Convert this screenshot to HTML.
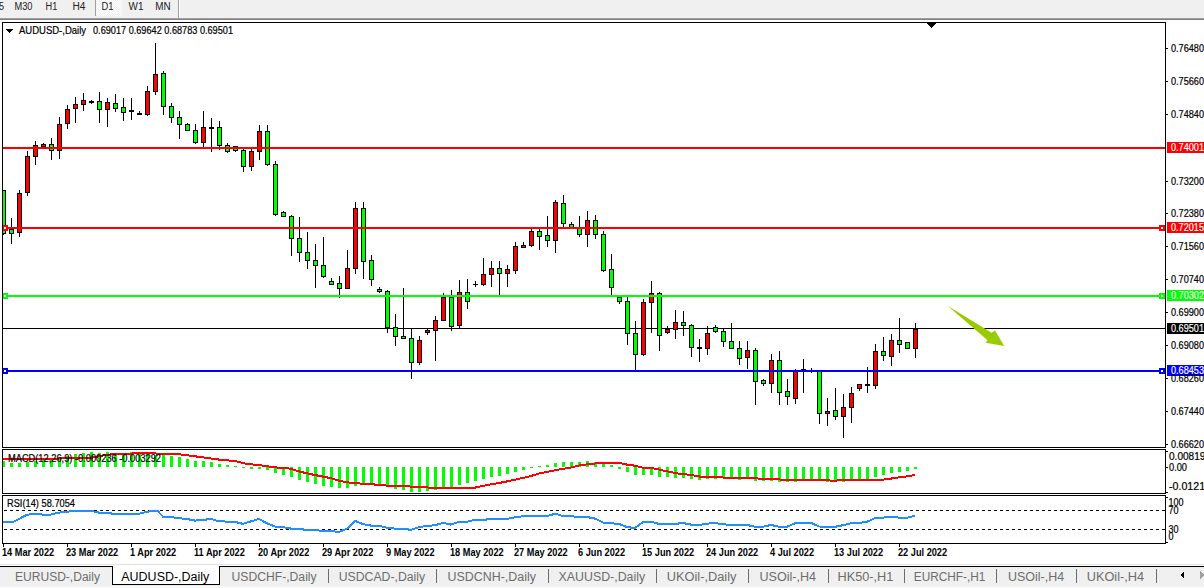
<!DOCTYPE html>
<html><head><meta charset="utf-8"><style>
html,body{margin:0;padding:0;background:#fff;}
body{width:1204px;height:588px;overflow:hidden;position:relative;}
svg{position:absolute;left:0;top:0;display:block;}
text{font-family:"Liberation Sans", sans-serif;}
</style></head><body>
<svg width="1204" height="588" viewBox="0 0 1204 588">
<g shape-rendering="crispEdges">
<rect x="0" y="0" width="1204" height="18" fill="#f0f0f0"/>
<rect x="0" y="18" width="1204" height="1" fill="#a0a0a0"/>
<rect x="0" y="19" width="1204" height="1" fill="#808080"/>
<rect x="0" y="20" width="1204" height="2" fill="#ffffff"/>
<defs><pattern id="chk" width="2" height="2" patternUnits="userSpaceOnUse"><rect width="2" height="2" fill="#f0f0f0"/><rect width="1" height="1" fill="#ffffff"/><rect x="1" y="1" width="1" height="1" fill="#ffffff"/></pattern></defs>
<rect x="96" y="0" width="26" height="16" fill="url(#chk)"/>
<rect x="95" y="0" width="1" height="16" fill="#a0a0a0"/>
<rect x="178" y="0" width="1" height="18" fill="#a0a0a0"/>
<rect x="179" y="0" width="1" height="18" fill="#ffffff"/>
<rect x="3" y="328" width="1162" height="1" fill="#000"/>
<rect x="3" y="190" width="1" height="45" fill="#000"/>
<rect x="3" y="190" width="3" height="44" fill="#000"/>
<rect x="3" y="191" width="2" height="42" fill="#00ff00"/>
<rect x="11" y="218" width="1" height="26" fill="#000"/>
<rect x="9" y="229" width="5" height="5" fill="#000"/>
<rect x="10" y="230" width="3" height="3" fill="#00ff00"/>
<rect x="19" y="190" width="1" height="47" fill="#000"/>
<rect x="17" y="193" width="5" height="40" fill="#000"/>
<rect x="18" y="194" width="3" height="38" fill="#ff0000"/>
<rect x="27" y="151" width="1" height="45" fill="#000"/>
<rect x="25" y="156" width="5" height="37" fill="#000"/>
<rect x="26" y="157" width="3" height="35" fill="#ff0000"/>
<rect x="35" y="141" width="1" height="24" fill="#000"/>
<rect x="33" y="145" width="5" height="12" fill="#000"/>
<rect x="34" y="146" width="3" height="10" fill="#ff0000"/>
<rect x="43" y="143" width="1" height="4" fill="#000"/>
<rect x="41" y="144" width="5" height="3" fill="#000"/>
<rect x="42" y="145" width="3" height="1" fill="#ff0000"/>
<rect x="51" y="138" width="1" height="22" fill="#000"/>
<rect x="49" y="144" width="5" height="7" fill="#000"/>
<rect x="50" y="145" width="3" height="5" fill="#00ff00"/>
<rect x="59" y="117" width="1" height="42" fill="#000"/>
<rect x="57" y="124" width="5" height="27" fill="#000"/>
<rect x="58" y="125" width="3" height="25" fill="#ff0000"/>
<rect x="67" y="105" width="1" height="24" fill="#000"/>
<rect x="65" y="109" width="5" height="15" fill="#000"/>
<rect x="66" y="110" width="3" height="13" fill="#ff0000"/>
<rect x="75" y="97" width="1" height="26" fill="#000"/>
<rect x="73" y="104" width="5" height="5" fill="#000"/>
<rect x="74" y="105" width="3" height="3" fill="#ff0000"/>
<rect x="83" y="93" width="1" height="18" fill="#000"/>
<rect x="81" y="100" width="5" height="5" fill="#000"/>
<rect x="82" y="101" width="3" height="3" fill="#ff0000"/>
<rect x="91" y="100" width="1" height="4" fill="#000"/>
<rect x="89" y="101" width="5" height="2" fill="#000"/>
<rect x="99" y="92" width="1" height="31" fill="#000"/>
<rect x="97" y="101" width="5" height="9" fill="#000"/>
<rect x="98" y="102" width="3" height="7" fill="#00ff00"/>
<rect x="107" y="98" width="1" height="29" fill="#000"/>
<rect x="105" y="102" width="5" height="8" fill="#000"/>
<rect x="106" y="103" width="3" height="6" fill="#ff0000"/>
<rect x="115" y="94" width="1" height="18" fill="#000"/>
<rect x="113" y="103" width="5" height="6" fill="#000"/>
<rect x="114" y="104" width="3" height="4" fill="#00ff00"/>
<rect x="123" y="98" width="1" height="23" fill="#000"/>
<rect x="121" y="107" width="5" height="6" fill="#000"/>
<rect x="122" y="108" width="3" height="4" fill="#00ff00"/>
<rect x="131" y="98" width="1" height="22" fill="#000"/>
<rect x="129" y="110" width="5" height="2" fill="#000"/>
<rect x="139" y="111" width="1" height="4" fill="#000"/>
<rect x="137" y="113" width="5" height="2" fill="#000"/>
<rect x="147" y="86" width="1" height="30" fill="#000"/>
<rect x="145" y="91" width="5" height="24" fill="#000"/>
<rect x="146" y="92" width="3" height="22" fill="#ff0000"/>
<rect x="155" y="43" width="1" height="52" fill="#000"/>
<rect x="153" y="74" width="5" height="18" fill="#000"/>
<rect x="154" y="75" width="3" height="16" fill="#ff0000"/>
<rect x="163" y="71" width="1" height="44" fill="#000"/>
<rect x="161" y="73" width="5" height="34" fill="#000"/>
<rect x="162" y="74" width="3" height="32" fill="#00ff00"/>
<rect x="171" y="103" width="1" height="20" fill="#000"/>
<rect x="169" y="106" width="5" height="12" fill="#000"/>
<rect x="170" y="107" width="3" height="10" fill="#00ff00"/>
<rect x="179" y="111" width="1" height="28" fill="#000"/>
<rect x="177" y="117" width="5" height="8" fill="#000"/>
<rect x="178" y="118" width="3" height="6" fill="#00ff00"/>
<rect x="187" y="123" width="1" height="8" fill="#000"/>
<rect x="185" y="124" width="5" height="7" fill="#000"/>
<rect x="186" y="125" width="3" height="5" fill="#00ff00"/>
<rect x="195" y="124" width="1" height="20" fill="#000"/>
<rect x="193" y="130" width="5" height="13" fill="#000"/>
<rect x="194" y="131" width="3" height="11" fill="#00ff00"/>
<rect x="203" y="111" width="1" height="36" fill="#000"/>
<rect x="201" y="127" width="5" height="16" fill="#000"/>
<rect x="202" y="128" width="3" height="14" fill="#ff0000"/>
<rect x="211" y="118" width="1" height="34" fill="#000"/>
<rect x="209" y="127" width="5" height="2" fill="#000"/>
<rect x="219" y="121" width="1" height="29" fill="#000"/>
<rect x="217" y="127" width="5" height="19" fill="#000"/>
<rect x="218" y="128" width="3" height="17" fill="#00ff00"/>
<rect x="227" y="143" width="1" height="10" fill="#000"/>
<rect x="225" y="145" width="5" height="7" fill="#000"/>
<rect x="226" y="146" width="3" height="5" fill="#00ff00"/>
<rect x="235" y="146" width="1" height="6" fill="#000"/>
<rect x="233" y="146" width="5" height="5" fill="#000"/>
<rect x="234" y="147" width="3" height="3" fill="#00ff00"/>
<rect x="243" y="149" width="1" height="23" fill="#000"/>
<rect x="241" y="150" width="5" height="17" fill="#000"/>
<rect x="242" y="151" width="3" height="15" fill="#00ff00"/>
<rect x="251" y="149" width="1" height="22" fill="#000"/>
<rect x="249" y="151" width="5" height="16" fill="#000"/>
<rect x="250" y="152" width="3" height="14" fill="#ff0000"/>
<rect x="259" y="125" width="1" height="35" fill="#000"/>
<rect x="257" y="131" width="5" height="21" fill="#000"/>
<rect x="258" y="132" width="3" height="19" fill="#ff0000"/>
<rect x="267" y="125" width="1" height="41" fill="#000"/>
<rect x="265" y="131" width="5" height="34" fill="#000"/>
<rect x="266" y="132" width="3" height="32" fill="#00ff00"/>
<rect x="275" y="161" width="1" height="55" fill="#000"/>
<rect x="273" y="164" width="5" height="51" fill="#000"/>
<rect x="274" y="165" width="3" height="49" fill="#00ff00"/>
<rect x="283" y="211" width="1" height="6" fill="#000"/>
<rect x="281" y="212" width="5" height="5" fill="#000"/>
<rect x="282" y="213" width="3" height="3" fill="#00ff00"/>
<rect x="291" y="215" width="1" height="41" fill="#000"/>
<rect x="289" y="216" width="5" height="23" fill="#000"/>
<rect x="290" y="217" width="3" height="21" fill="#00ff00"/>
<rect x="299" y="217" width="1" height="45" fill="#000"/>
<rect x="297" y="238" width="5" height="15" fill="#000"/>
<rect x="298" y="239" width="3" height="13" fill="#00ff00"/>
<rect x="307" y="232" width="1" height="37" fill="#000"/>
<rect x="305" y="252" width="5" height="9" fill="#000"/>
<rect x="306" y="253" width="3" height="7" fill="#00ff00"/>
<rect x="315" y="244" width="1" height="44" fill="#000"/>
<rect x="313" y="260" width="5" height="6" fill="#000"/>
<rect x="314" y="261" width="3" height="4" fill="#00ff00"/>
<rect x="323" y="237" width="1" height="41" fill="#000"/>
<rect x="321" y="265" width="5" height="12" fill="#000"/>
<rect x="322" y="266" width="3" height="10" fill="#00ff00"/>
<rect x="331" y="278" width="1" height="7" fill="#000"/>
<rect x="329" y="281" width="5" height="4" fill="#000"/>
<rect x="330" y="282" width="3" height="2" fill="#00ff00"/>
<rect x="339" y="276" width="1" height="22" fill="#000"/>
<rect x="337" y="283" width="5" height="6" fill="#000"/>
<rect x="338" y="284" width="3" height="4" fill="#00ff00"/>
<rect x="347" y="250" width="1" height="39" fill="#000"/>
<rect x="345" y="268" width="5" height="21" fill="#000"/>
<rect x="346" y="269" width="3" height="19" fill="#ff0000"/>
<rect x="355" y="202" width="1" height="72" fill="#000"/>
<rect x="353" y="208" width="5" height="61" fill="#000"/>
<rect x="354" y="209" width="3" height="59" fill="#ff0000"/>
<rect x="363" y="202" width="1" height="77" fill="#000"/>
<rect x="361" y="208" width="5" height="54" fill="#000"/>
<rect x="362" y="209" width="3" height="52" fill="#00ff00"/>
<rect x="371" y="255" width="1" height="31" fill="#000"/>
<rect x="369" y="260" width="5" height="20" fill="#000"/>
<rect x="370" y="261" width="3" height="18" fill="#00ff00"/>
<rect x="379" y="287" width="1" height="6" fill="#000"/>
<rect x="377" y="289" width="5" height="3" fill="#000"/>
<rect x="378" y="290" width="3" height="1" fill="#00ff00"/>
<rect x="387" y="290" width="1" height="43" fill="#000"/>
<rect x="385" y="291" width="5" height="37" fill="#000"/>
<rect x="386" y="292" width="3" height="35" fill="#00ff00"/>
<rect x="395" y="314" width="1" height="32" fill="#000"/>
<rect x="393" y="327" width="5" height="10" fill="#000"/>
<rect x="394" y="328" width="3" height="8" fill="#00ff00"/>
<rect x="403" y="288" width="1" height="51" fill="#000"/>
<rect x="401" y="336" width="5" height="3" fill="#000"/>
<rect x="402" y="337" width="3" height="1" fill="#00ff00"/>
<rect x="411" y="328" width="1" height="51" fill="#000"/>
<rect x="409" y="338" width="5" height="25" fill="#000"/>
<rect x="410" y="339" width="3" height="23" fill="#00ff00"/>
<rect x="419" y="336" width="1" height="29" fill="#000"/>
<rect x="417" y="340" width="5" height="23" fill="#000"/>
<rect x="418" y="341" width="3" height="21" fill="#ff0000"/>
<rect x="427" y="329" width="1" height="6" fill="#000"/>
<rect x="425" y="330" width="5" height="3" fill="#000"/>
<rect x="426" y="331" width="3" height="1" fill="#ff0000"/>
<rect x="435" y="316" width="1" height="45" fill="#000"/>
<rect x="433" y="320" width="5" height="11" fill="#000"/>
<rect x="434" y="321" width="3" height="9" fill="#ff0000"/>
<rect x="443" y="293" width="1" height="28" fill="#000"/>
<rect x="441" y="297" width="5" height="24" fill="#000"/>
<rect x="442" y="298" width="3" height="22" fill="#ff0000"/>
<rect x="451" y="290" width="1" height="41" fill="#000"/>
<rect x="449" y="297" width="5" height="30" fill="#000"/>
<rect x="450" y="298" width="3" height="28" fill="#00ff00"/>
<rect x="459" y="280" width="1" height="49" fill="#000"/>
<rect x="457" y="292" width="5" height="34" fill="#000"/>
<rect x="458" y="293" width="3" height="32" fill="#ff0000"/>
<rect x="467" y="279" width="1" height="30" fill="#000"/>
<rect x="465" y="292" width="5" height="10" fill="#000"/>
<rect x="466" y="293" width="3" height="8" fill="#00ff00"/>
<rect x="475" y="281" width="1" height="6" fill="#000"/>
<rect x="473" y="284" width="5" height="1" fill="#000"/>
<rect x="483" y="258" width="1" height="28" fill="#000"/>
<rect x="481" y="274" width="5" height="11" fill="#000"/>
<rect x="482" y="275" width="3" height="9" fill="#ff0000"/>
<rect x="491" y="261" width="1" height="26" fill="#000"/>
<rect x="489" y="268" width="5" height="7" fill="#000"/>
<rect x="490" y="269" width="3" height="5" fill="#ff0000"/>
<rect x="499" y="261" width="1" height="34" fill="#000"/>
<rect x="497" y="268" width="5" height="6" fill="#000"/>
<rect x="498" y="269" width="3" height="4" fill="#00ff00"/>
<rect x="507" y="265" width="1" height="22" fill="#000"/>
<rect x="505" y="269" width="5" height="5" fill="#000"/>
<rect x="506" y="270" width="3" height="3" fill="#ff0000"/>
<rect x="515" y="242" width="1" height="32" fill="#000"/>
<rect x="513" y="246" width="5" height="25" fill="#000"/>
<rect x="514" y="247" width="3" height="23" fill="#ff0000"/>
<rect x="523" y="242" width="1" height="6" fill="#000"/>
<rect x="521" y="245" width="5" height="3" fill="#000"/>
<rect x="522" y="246" width="3" height="1" fill="#ff0000"/>
<rect x="531" y="229" width="1" height="18" fill="#000"/>
<rect x="529" y="231" width="5" height="15" fill="#000"/>
<rect x="530" y="232" width="3" height="13" fill="#ff0000"/>
<rect x="539" y="229" width="1" height="21" fill="#000"/>
<rect x="537" y="231" width="5" height="6" fill="#000"/>
<rect x="538" y="232" width="3" height="4" fill="#00ff00"/>
<rect x="547" y="216" width="1" height="31" fill="#000"/>
<rect x="545" y="235" width="5" height="6" fill="#000"/>
<rect x="546" y="236" width="3" height="4" fill="#00ff00"/>
<rect x="555" y="200" width="1" height="53" fill="#000"/>
<rect x="553" y="202" width="5" height="39" fill="#000"/>
<rect x="554" y="203" width="3" height="37" fill="#ff0000"/>
<rect x="563" y="195" width="1" height="32" fill="#000"/>
<rect x="561" y="203" width="5" height="21" fill="#000"/>
<rect x="562" y="204" width="3" height="19" fill="#00ff00"/>
<rect x="571" y="222" width="1" height="6" fill="#000"/>
<rect x="569" y="224" width="5" height="4" fill="#000"/>
<rect x="570" y="225" width="3" height="2" fill="#00ff00"/>
<rect x="579" y="216" width="1" height="21" fill="#000"/>
<rect x="577" y="228" width="5" height="7" fill="#000"/>
<rect x="578" y="229" width="3" height="5" fill="#00ff00"/>
<rect x="587" y="211" width="1" height="36" fill="#000"/>
<rect x="585" y="220" width="5" height="15" fill="#000"/>
<rect x="586" y="221" width="3" height="13" fill="#ff0000"/>
<rect x="595" y="215" width="1" height="24" fill="#000"/>
<rect x="593" y="220" width="5" height="15" fill="#000"/>
<rect x="594" y="221" width="3" height="13" fill="#00ff00"/>
<rect x="603" y="231" width="1" height="41" fill="#000"/>
<rect x="601" y="234" width="5" height="37" fill="#000"/>
<rect x="602" y="235" width="3" height="35" fill="#00ff00"/>
<rect x="611" y="254" width="1" height="41" fill="#000"/>
<rect x="609" y="269" width="5" height="19" fill="#000"/>
<rect x="610" y="270" width="3" height="17" fill="#00ff00"/>
<rect x="619" y="297" width="1" height="7" fill="#000"/>
<rect x="617" y="297" width="5" height="5" fill="#000"/>
<rect x="618" y="298" width="3" height="3" fill="#00ff00"/>
<rect x="627" y="297" width="1" height="48" fill="#000"/>
<rect x="625" y="301" width="5" height="33" fill="#000"/>
<rect x="626" y="302" width="3" height="31" fill="#00ff00"/>
<rect x="635" y="321" width="1" height="50" fill="#000"/>
<rect x="633" y="333" width="5" height="22" fill="#000"/>
<rect x="634" y="334" width="3" height="20" fill="#00ff00"/>
<rect x="643" y="299" width="1" height="57" fill="#000"/>
<rect x="641" y="302" width="5" height="53" fill="#000"/>
<rect x="642" y="303" width="3" height="51" fill="#ff0000"/>
<rect x="651" y="281" width="1" height="52" fill="#000"/>
<rect x="649" y="293" width="5" height="10" fill="#000"/>
<rect x="650" y="294" width="3" height="8" fill="#ff0000"/>
<rect x="659" y="292" width="1" height="59" fill="#000"/>
<rect x="657" y="293" width="5" height="43" fill="#000"/>
<rect x="658" y="294" width="3" height="41" fill="#00ff00"/>
<rect x="667" y="326" width="1" height="8" fill="#000"/>
<rect x="665" y="329" width="5" height="4" fill="#000"/>
<rect x="666" y="330" width="3" height="2" fill="#ff0000"/>
<rect x="675" y="310" width="1" height="29" fill="#000"/>
<rect x="673" y="322" width="5" height="8" fill="#000"/>
<rect x="674" y="323" width="3" height="6" fill="#ff0000"/>
<rect x="683" y="311" width="1" height="25" fill="#000"/>
<rect x="681" y="322" width="5" height="4" fill="#000"/>
<rect x="682" y="323" width="3" height="2" fill="#00ff00"/>
<rect x="691" y="324" width="1" height="33" fill="#000"/>
<rect x="689" y="325" width="5" height="23" fill="#000"/>
<rect x="690" y="326" width="3" height="21" fill="#00ff00"/>
<rect x="699" y="339" width="1" height="23" fill="#000"/>
<rect x="697" y="347" width="5" height="2" fill="#000"/>
<rect x="707" y="326" width="1" height="29" fill="#000"/>
<rect x="705" y="333" width="5" height="16" fill="#000"/>
<rect x="706" y="334" width="3" height="14" fill="#ff0000"/>
<rect x="715" y="325" width="1" height="8" fill="#000"/>
<rect x="713" y="327" width="5" height="5" fill="#000"/>
<rect x="714" y="328" width="3" height="3" fill="#00ff00"/>
<rect x="723" y="329" width="1" height="18" fill="#000"/>
<rect x="721" y="331" width="5" height="11" fill="#000"/>
<rect x="722" y="332" width="3" height="9" fill="#00ff00"/>
<rect x="731" y="323" width="1" height="26" fill="#000"/>
<rect x="729" y="341" width="5" height="8" fill="#000"/>
<rect x="730" y="342" width="3" height="6" fill="#00ff00"/>
<rect x="739" y="341" width="1" height="24" fill="#000"/>
<rect x="737" y="348" width="5" height="11" fill="#000"/>
<rect x="738" y="349" width="3" height="9" fill="#00ff00"/>
<rect x="747" y="341" width="1" height="28" fill="#000"/>
<rect x="745" y="350" width="5" height="8" fill="#000"/>
<rect x="746" y="351" width="3" height="6" fill="#ff0000"/>
<rect x="755" y="348" width="1" height="57" fill="#000"/>
<rect x="753" y="350" width="5" height="32" fill="#000"/>
<rect x="754" y="351" width="3" height="30" fill="#00ff00"/>
<rect x="763" y="379" width="1" height="7" fill="#000"/>
<rect x="761" y="380" width="5" height="4" fill="#000"/>
<rect x="762" y="381" width="3" height="2" fill="#00ff00"/>
<rect x="771" y="354" width="1" height="39" fill="#000"/>
<rect x="769" y="360" width="5" height="24" fill="#000"/>
<rect x="770" y="361" width="3" height="22" fill="#ff0000"/>
<rect x="779" y="351" width="1" height="54" fill="#000"/>
<rect x="777" y="360" width="5" height="33" fill="#000"/>
<rect x="778" y="361" width="3" height="31" fill="#00ff00"/>
<rect x="787" y="379" width="1" height="26" fill="#000"/>
<rect x="785" y="391" width="5" height="6" fill="#000"/>
<rect x="786" y="392" width="3" height="4" fill="#00ff00"/>
<rect x="795" y="369" width="1" height="35" fill="#000"/>
<rect x="793" y="371" width="5" height="28" fill="#000"/>
<rect x="794" y="372" width="3" height="26" fill="#ff0000"/>
<rect x="803" y="359" width="1" height="34" fill="#000"/>
<rect x="801" y="369" width="5" height="2" fill="#000"/>
<rect x="811" y="368" width="1" height="5" fill="#000"/>
<rect x="809" y="370" width="5" height="2" fill="#000"/>
<rect x="819" y="371" width="1" height="53" fill="#000"/>
<rect x="817" y="371" width="5" height="43" fill="#000"/>
<rect x="818" y="372" width="3" height="41" fill="#00ff00"/>
<rect x="827" y="398" width="1" height="28" fill="#000"/>
<rect x="825" y="411" width="5" height="3" fill="#000"/>
<rect x="826" y="412" width="3" height="1" fill="#ff0000"/>
<rect x="835" y="388" width="1" height="32" fill="#000"/>
<rect x="833" y="410" width="5" height="7" fill="#000"/>
<rect x="834" y="411" width="3" height="5" fill="#00ff00"/>
<rect x="843" y="394" width="1" height="44" fill="#000"/>
<rect x="841" y="407" width="5" height="10" fill="#000"/>
<rect x="842" y="408" width="3" height="8" fill="#ff0000"/>
<rect x="851" y="387" width="1" height="36" fill="#000"/>
<rect x="849" y="393" width="5" height="15" fill="#000"/>
<rect x="850" y="394" width="3" height="13" fill="#ff0000"/>
<rect x="859" y="384" width="1" height="7" fill="#000"/>
<rect x="857" y="384" width="5" height="5" fill="#000"/>
<rect x="858" y="385" width="3" height="3" fill="#ff0000"/>
<rect x="867" y="367" width="1" height="26" fill="#000"/>
<rect x="865" y="384" width="5" height="2" fill="#000"/>
<rect x="875" y="344" width="1" height="45" fill="#000"/>
<rect x="873" y="351" width="5" height="35" fill="#000"/>
<rect x="874" y="352" width="3" height="33" fill="#ff0000"/>
<rect x="883" y="337" width="1" height="24" fill="#000"/>
<rect x="881" y="351" width="5" height="5" fill="#000"/>
<rect x="882" y="352" width="3" height="3" fill="#00ff00"/>
<rect x="891" y="334" width="1" height="32" fill="#000"/>
<rect x="889" y="340" width="5" height="17" fill="#000"/>
<rect x="890" y="341" width="3" height="15" fill="#ff0000"/>
<rect x="899" y="318" width="1" height="35" fill="#000"/>
<rect x="897" y="340" width="5" height="5" fill="#000"/>
<rect x="898" y="341" width="3" height="3" fill="#00ff00"/>
<rect x="907" y="342" width="1" height="7" fill="#000"/>
<rect x="905" y="342" width="5" height="7" fill="#000"/>
<rect x="906" y="343" width="3" height="5" fill="#00ff00"/>
<rect x="915" y="323" width="1" height="35" fill="#000"/>
<rect x="913" y="329" width="5" height="20" fill="#000"/>
<rect x="914" y="330" width="3" height="18" fill="#ff0000"/>
<rect x="3" y="147" width="1162" height="2" fill="#ff0000"/>
<rect x="3" y="227" width="1162" height="2" fill="#ff0000"/>
<rect x="2" y="225" width="6" height="6" fill="#ff0000"/>
<rect x="4" y="227" width="2" height="2" fill="#fff"/>
<rect x="1159" y="225" width="6" height="6" fill="#ff0000"/>
<rect x="1161" y="227" width="2" height="2" fill="#fff"/>
<rect x="3" y="295" width="1162" height="2" fill="#00ff00"/>
<rect x="2" y="293" width="6" height="6" fill="#00ff00"/>
<rect x="4" y="295" width="2" height="2" fill="#fff"/>
<rect x="1159" y="293" width="6" height="6" fill="#00ff00"/>
<rect x="1161" y="295" width="2" height="2" fill="#fff"/>
<rect x="3" y="370" width="1162" height="2" fill="#0000ff"/>
<rect x="2" y="368" width="6" height="6" fill="#0000ff"/>
<rect x="4" y="370" width="2" height="2" fill="#fff"/>
<rect x="1159" y="368" width="6" height="6" fill="#0000ff"/>
<rect x="1161" y="370" width="2" height="2" fill="#fff"/>
<polygon shape-rendering="geometricPrecision" points="947.5,305.8 991.6,332.8 995,330.4 1004.2,346 985.5,342.7 987.6,340.3" fill="#99cc00"/>
<polygon points="926.5,23 936.5,23 931.5,28" fill="#000"/>
<rect x="3" y="461" width="2" height="6" fill="#00ff00"/>
<rect x="10" y="463" width="3" height="4" fill="#00ff00"/>
<rect x="18" y="463" width="3" height="4" fill="#00ff00"/>
<rect x="26" y="462" width="3" height="5" fill="#00ff00"/>
<rect x="34" y="461" width="3" height="6" fill="#00ff00"/>
<rect x="42" y="460" width="3" height="7" fill="#00ff00"/>
<rect x="50" y="459" width="3" height="8" fill="#00ff00"/>
<rect x="58" y="458" width="3" height="9" fill="#00ff00"/>
<rect x="66" y="456" width="3" height="11" fill="#00ff00"/>
<rect x="74" y="454" width="3" height="13" fill="#00ff00"/>
<rect x="82" y="453" width="3" height="14" fill="#00ff00"/>
<rect x="90" y="452" width="3" height="15" fill="#00ff00"/>
<rect x="98" y="453" width="3" height="14" fill="#00ff00"/>
<rect x="106" y="452" width="3" height="15" fill="#00ff00"/>
<rect x="114" y="453" width="3" height="14" fill="#00ff00"/>
<rect x="122" y="454" width="3" height="13" fill="#00ff00"/>
<rect x="130" y="452" width="3" height="15" fill="#00ff00"/>
<rect x="138" y="452" width="3" height="15" fill="#00ff00"/>
<rect x="146" y="453" width="3" height="14" fill="#00ff00"/>
<rect x="154" y="455" width="3" height="12" fill="#00ff00"/>
<rect x="162" y="455" width="3" height="12" fill="#00ff00"/>
<rect x="170" y="456" width="3" height="11" fill="#00ff00"/>
<rect x="178" y="457" width="3" height="10" fill="#00ff00"/>
<rect x="186" y="459" width="3" height="8" fill="#00ff00"/>
<rect x="194" y="461" width="3" height="6" fill="#00ff00"/>
<rect x="202" y="461" width="3" height="6" fill="#00ff00"/>
<rect x="210" y="462" width="3" height="5" fill="#00ff00"/>
<rect x="218" y="464" width="3" height="3" fill="#00ff00"/>
<rect x="226" y="465" width="3" height="2" fill="#00ff00"/>
<rect x="234" y="466" width="3" height="1" fill="#00ff00"/>
<rect x="242" y="467" width="3" height="1" fill="#00ff00"/>
<rect x="250" y="467" width="3" height="2" fill="#00ff00"/>
<rect x="258" y="467" width="3" height="2" fill="#00ff00"/>
<rect x="266" y="467" width="3" height="3" fill="#00ff00"/>
<rect x="274" y="467" width="3" height="6" fill="#00ff00"/>
<rect x="282" y="467" width="3" height="8" fill="#00ff00"/>
<rect x="290" y="467" width="3" height="10" fill="#00ff00"/>
<rect x="298" y="467" width="3" height="13" fill="#00ff00"/>
<rect x="306" y="467" width="3" height="15" fill="#00ff00"/>
<rect x="314" y="467" width="3" height="17" fill="#00ff00"/>
<rect x="322" y="467" width="3" height="19" fill="#00ff00"/>
<rect x="330" y="467" width="3" height="20" fill="#00ff00"/>
<rect x="338" y="467" width="3" height="21" fill="#00ff00"/>
<rect x="346" y="467" width="3" height="21" fill="#00ff00"/>
<rect x="354" y="467" width="3" height="19" fill="#00ff00"/>
<rect x="362" y="467" width="3" height="18" fill="#00ff00"/>
<rect x="370" y="467" width="3" height="17" fill="#00ff00"/>
<rect x="378" y="467" width="3" height="17" fill="#00ff00"/>
<rect x="386" y="467" width="3" height="19" fill="#00ff00"/>
<rect x="394" y="467" width="3" height="22" fill="#00ff00"/>
<rect x="402" y="467" width="3" height="23" fill="#00ff00"/>
<rect x="410" y="467" width="3" height="25" fill="#00ff00"/>
<rect x="418" y="467" width="3" height="25" fill="#00ff00"/>
<rect x="426" y="467" width="3" height="24" fill="#00ff00"/>
<rect x="434" y="467" width="3" height="23" fill="#00ff00"/>
<rect x="442" y="467" width="3" height="21" fill="#00ff00"/>
<rect x="450" y="467" width="3" height="21" fill="#00ff00"/>
<rect x="458" y="467" width="3" height="18" fill="#00ff00"/>
<rect x="466" y="467" width="3" height="16" fill="#00ff00"/>
<rect x="474" y="467" width="3" height="14" fill="#00ff00"/>
<rect x="482" y="467" width="3" height="12" fill="#00ff00"/>
<rect x="490" y="467" width="3" height="10" fill="#00ff00"/>
<rect x="498" y="467" width="3" height="9" fill="#00ff00"/>
<rect x="506" y="467" width="3" height="7" fill="#00ff00"/>
<rect x="514" y="467" width="3" height="5" fill="#00ff00"/>
<rect x="522" y="467" width="3" height="3" fill="#00ff00"/>
<rect x="530" y="467" width="3" height="1" fill="#00ff00"/>
<rect x="538" y="466" width="3" height="1" fill="#00ff00"/>
<rect x="546" y="465" width="3" height="2" fill="#00ff00"/>
<rect x="554" y="463" width="3" height="4" fill="#00ff00"/>
<rect x="562" y="462" width="3" height="5" fill="#00ff00"/>
<rect x="570" y="462" width="3" height="5" fill="#00ff00"/>
<rect x="578" y="462" width="3" height="5" fill="#00ff00"/>
<rect x="586" y="461" width="3" height="6" fill="#00ff00"/>
<rect x="594" y="462" width="3" height="5" fill="#00ff00"/>
<rect x="602" y="464" width="3" height="3" fill="#00ff00"/>
<rect x="610" y="465" width="3" height="2" fill="#00ff00"/>
<rect x="618" y="467" width="3" height="2" fill="#00ff00"/>
<rect x="626" y="467" width="3" height="5" fill="#00ff00"/>
<rect x="634" y="467" width="3" height="8" fill="#00ff00"/>
<rect x="642" y="467" width="3" height="8" fill="#00ff00"/>
<rect x="650" y="467" width="3" height="8" fill="#00ff00"/>
<rect x="658" y="467" width="3" height="10" fill="#00ff00"/>
<rect x="666" y="467" width="3" height="10" fill="#00ff00"/>
<rect x="674" y="467" width="3" height="11" fill="#00ff00"/>
<rect x="682" y="467" width="3" height="11" fill="#00ff00"/>
<rect x="690" y="467" width="3" height="12" fill="#00ff00"/>
<rect x="698" y="467" width="3" height="13" fill="#00ff00"/>
<rect x="706" y="467" width="3" height="12" fill="#00ff00"/>
<rect x="714" y="467" width="3" height="12" fill="#00ff00"/>
<rect x="722" y="467" width="3" height="11" fill="#00ff00"/>
<rect x="730" y="467" width="3" height="11" fill="#00ff00"/>
<rect x="738" y="467" width="3" height="13" fill="#00ff00"/>
<rect x="746" y="467" width="3" height="11" fill="#00ff00"/>
<rect x="754" y="467" width="3" height="14" fill="#00ff00"/>
<rect x="762" y="467" width="3" height="14" fill="#00ff00"/>
<rect x="770" y="467" width="3" height="14" fill="#00ff00"/>
<rect x="778" y="467" width="3" height="15" fill="#00ff00"/>
<rect x="786" y="467" width="3" height="15" fill="#00ff00"/>
<rect x="794" y="467" width="3" height="15" fill="#00ff00"/>
<rect x="802" y="467" width="3" height="13" fill="#00ff00"/>
<rect x="810" y="467" width="3" height="13" fill="#00ff00"/>
<rect x="818" y="467" width="3" height="13" fill="#00ff00"/>
<rect x="826" y="467" width="3" height="15" fill="#00ff00"/>
<rect x="834" y="467" width="3" height="15" fill="#00ff00"/>
<rect x="842" y="467" width="3" height="15" fill="#00ff00"/>
<rect x="850" y="467" width="3" height="14" fill="#00ff00"/>
<rect x="858" y="467" width="3" height="12" fill="#00ff00"/>
<rect x="866" y="467" width="3" height="12" fill="#00ff00"/>
<rect x="874" y="467" width="3" height="10" fill="#00ff00"/>
<rect x="882" y="467" width="3" height="8" fill="#00ff00"/>
<rect x="890" y="467" width="3" height="6" fill="#00ff00"/>
<rect x="898" y="467" width="3" height="5" fill="#00ff00"/>
<rect x="906" y="467" width="3" height="4" fill="#00ff00"/>
<rect x="914" y="467" width="3" height="2" fill="#00ff00"/>
<polyline points="2,459 40,459 60,458.5 90,458 100,456 110,454.5 125,454 140,453 150,453 156,453.5 180,454.4 190,455.6 200,457 210,458.4 220,459.7 235,461 245,463.5 260,465.3 275,467.3 290,468.6 300,471.7 310,474 320,476 330,478 340,481 350,482.6 360,483.5 370,484.1 380,485 390,485.9 410,486.5 420,487 430,487.6 460,487.6 475,487.6 480,486.5 490,484.5 500,482.8 510,480.8 520,478.6 530,476.3 540,473.2 550,471.3 560,469.3 570,467.7 580,465.3 590,464 600,463 610,463 620,463 627,464.6 635,465.7 643,467.7 655,468.6 665,470.9 680,473.9 690,474.8 700,476.6 720,477 725,477.9 755,477.9 760,479 787,479.7 835,480.6 852,479.7 883,479.7 891,478.6 899,477.4 907,476.4 915,474.9" fill="none" stroke="#ff0000" stroke-width="2" shape-rendering="crispEdges"/>
<rect x="4" y="510" width="3" height="1" fill="#000"/>
<rect x="10" y="510" width="3" height="1" fill="#000"/>
<rect x="16" y="510" width="3" height="1" fill="#000"/>
<rect x="22" y="510" width="3" height="1" fill="#000"/>
<rect x="28" y="510" width="3" height="1" fill="#000"/>
<rect x="34" y="510" width="3" height="1" fill="#000"/>
<rect x="40" y="510" width="3" height="1" fill="#000"/>
<rect x="46" y="510" width="3" height="1" fill="#000"/>
<rect x="52" y="510" width="3" height="1" fill="#000"/>
<rect x="58" y="510" width="3" height="1" fill="#000"/>
<rect x="64" y="510" width="3" height="1" fill="#000"/>
<rect x="70" y="510" width="3" height="1" fill="#000"/>
<rect x="76" y="510" width="3" height="1" fill="#000"/>
<rect x="82" y="510" width="3" height="1" fill="#000"/>
<rect x="88" y="510" width="3" height="1" fill="#000"/>
<rect x="94" y="510" width="3" height="1" fill="#000"/>
<rect x="100" y="510" width="3" height="1" fill="#000"/>
<rect x="106" y="510" width="3" height="1" fill="#000"/>
<rect x="112" y="510" width="3" height="1" fill="#000"/>
<rect x="118" y="510" width="3" height="1" fill="#000"/>
<rect x="124" y="510" width="3" height="1" fill="#000"/>
<rect x="130" y="510" width="3" height="1" fill="#000"/>
<rect x="136" y="510" width="3" height="1" fill="#000"/>
<rect x="142" y="510" width="3" height="1" fill="#000"/>
<rect x="148" y="510" width="3" height="1" fill="#000"/>
<rect x="154" y="510" width="3" height="1" fill="#000"/>
<rect x="160" y="510" width="3" height="1" fill="#000"/>
<rect x="166" y="510" width="3" height="1" fill="#000"/>
<rect x="172" y="510" width="3" height="1" fill="#000"/>
<rect x="178" y="510" width="3" height="1" fill="#000"/>
<rect x="184" y="510" width="3" height="1" fill="#000"/>
<rect x="190" y="510" width="3" height="1" fill="#000"/>
<rect x="196" y="510" width="3" height="1" fill="#000"/>
<rect x="202" y="510" width="3" height="1" fill="#000"/>
<rect x="208" y="510" width="3" height="1" fill="#000"/>
<rect x="214" y="510" width="3" height="1" fill="#000"/>
<rect x="220" y="510" width="3" height="1" fill="#000"/>
<rect x="226" y="510" width="3" height="1" fill="#000"/>
<rect x="232" y="510" width="3" height="1" fill="#000"/>
<rect x="238" y="510" width="3" height="1" fill="#000"/>
<rect x="244" y="510" width="3" height="1" fill="#000"/>
<rect x="250" y="510" width="3" height="1" fill="#000"/>
<rect x="256" y="510" width="3" height="1" fill="#000"/>
<rect x="262" y="510" width="3" height="1" fill="#000"/>
<rect x="268" y="510" width="3" height="1" fill="#000"/>
<rect x="274" y="510" width="3" height="1" fill="#000"/>
<rect x="280" y="510" width="3" height="1" fill="#000"/>
<rect x="286" y="510" width="3" height="1" fill="#000"/>
<rect x="292" y="510" width="3" height="1" fill="#000"/>
<rect x="298" y="510" width="3" height="1" fill="#000"/>
<rect x="304" y="510" width="3" height="1" fill="#000"/>
<rect x="310" y="510" width="3" height="1" fill="#000"/>
<rect x="316" y="510" width="3" height="1" fill="#000"/>
<rect x="322" y="510" width="3" height="1" fill="#000"/>
<rect x="328" y="510" width="3" height="1" fill="#000"/>
<rect x="334" y="510" width="3" height="1" fill="#000"/>
<rect x="340" y="510" width="3" height="1" fill="#000"/>
<rect x="346" y="510" width="3" height="1" fill="#000"/>
<rect x="352" y="510" width="3" height="1" fill="#000"/>
<rect x="358" y="510" width="3" height="1" fill="#000"/>
<rect x="364" y="510" width="3" height="1" fill="#000"/>
<rect x="370" y="510" width="3" height="1" fill="#000"/>
<rect x="376" y="510" width="3" height="1" fill="#000"/>
<rect x="382" y="510" width="3" height="1" fill="#000"/>
<rect x="388" y="510" width="3" height="1" fill="#000"/>
<rect x="394" y="510" width="3" height="1" fill="#000"/>
<rect x="400" y="510" width="3" height="1" fill="#000"/>
<rect x="406" y="510" width="3" height="1" fill="#000"/>
<rect x="412" y="510" width="3" height="1" fill="#000"/>
<rect x="418" y="510" width="3" height="1" fill="#000"/>
<rect x="424" y="510" width="3" height="1" fill="#000"/>
<rect x="430" y="510" width="3" height="1" fill="#000"/>
<rect x="436" y="510" width="3" height="1" fill="#000"/>
<rect x="442" y="510" width="3" height="1" fill="#000"/>
<rect x="448" y="510" width="3" height="1" fill="#000"/>
<rect x="454" y="510" width="3" height="1" fill="#000"/>
<rect x="460" y="510" width="3" height="1" fill="#000"/>
<rect x="466" y="510" width="3" height="1" fill="#000"/>
<rect x="472" y="510" width="3" height="1" fill="#000"/>
<rect x="478" y="510" width="3" height="1" fill="#000"/>
<rect x="484" y="510" width="3" height="1" fill="#000"/>
<rect x="490" y="510" width="3" height="1" fill="#000"/>
<rect x="496" y="510" width="3" height="1" fill="#000"/>
<rect x="502" y="510" width="3" height="1" fill="#000"/>
<rect x="508" y="510" width="3" height="1" fill="#000"/>
<rect x="514" y="510" width="3" height="1" fill="#000"/>
<rect x="520" y="510" width="3" height="1" fill="#000"/>
<rect x="526" y="510" width="3" height="1" fill="#000"/>
<rect x="532" y="510" width="3" height="1" fill="#000"/>
<rect x="538" y="510" width="3" height="1" fill="#000"/>
<rect x="544" y="510" width="3" height="1" fill="#000"/>
<rect x="550" y="510" width="3" height="1" fill="#000"/>
<rect x="556" y="510" width="3" height="1" fill="#000"/>
<rect x="562" y="510" width="3" height="1" fill="#000"/>
<rect x="568" y="510" width="3" height="1" fill="#000"/>
<rect x="574" y="510" width="3" height="1" fill="#000"/>
<rect x="580" y="510" width="3" height="1" fill="#000"/>
<rect x="586" y="510" width="3" height="1" fill="#000"/>
<rect x="592" y="510" width="3" height="1" fill="#000"/>
<rect x="598" y="510" width="3" height="1" fill="#000"/>
<rect x="604" y="510" width="3" height="1" fill="#000"/>
<rect x="610" y="510" width="3" height="1" fill="#000"/>
<rect x="616" y="510" width="3" height="1" fill="#000"/>
<rect x="622" y="510" width="3" height="1" fill="#000"/>
<rect x="628" y="510" width="3" height="1" fill="#000"/>
<rect x="634" y="510" width="3" height="1" fill="#000"/>
<rect x="640" y="510" width="3" height="1" fill="#000"/>
<rect x="646" y="510" width="3" height="1" fill="#000"/>
<rect x="652" y="510" width="3" height="1" fill="#000"/>
<rect x="658" y="510" width="3" height="1" fill="#000"/>
<rect x="664" y="510" width="3" height="1" fill="#000"/>
<rect x="670" y="510" width="3" height="1" fill="#000"/>
<rect x="676" y="510" width="3" height="1" fill="#000"/>
<rect x="682" y="510" width="3" height="1" fill="#000"/>
<rect x="688" y="510" width="3" height="1" fill="#000"/>
<rect x="694" y="510" width="3" height="1" fill="#000"/>
<rect x="700" y="510" width="3" height="1" fill="#000"/>
<rect x="706" y="510" width="3" height="1" fill="#000"/>
<rect x="712" y="510" width="3" height="1" fill="#000"/>
<rect x="718" y="510" width="3" height="1" fill="#000"/>
<rect x="724" y="510" width="3" height="1" fill="#000"/>
<rect x="730" y="510" width="3" height="1" fill="#000"/>
<rect x="736" y="510" width="3" height="1" fill="#000"/>
<rect x="742" y="510" width="3" height="1" fill="#000"/>
<rect x="748" y="510" width="3" height="1" fill="#000"/>
<rect x="754" y="510" width="3" height="1" fill="#000"/>
<rect x="760" y="510" width="3" height="1" fill="#000"/>
<rect x="766" y="510" width="3" height="1" fill="#000"/>
<rect x="772" y="510" width="3" height="1" fill="#000"/>
<rect x="778" y="510" width="3" height="1" fill="#000"/>
<rect x="784" y="510" width="3" height="1" fill="#000"/>
<rect x="790" y="510" width="3" height="1" fill="#000"/>
<rect x="796" y="510" width="3" height="1" fill="#000"/>
<rect x="802" y="510" width="3" height="1" fill="#000"/>
<rect x="808" y="510" width="3" height="1" fill="#000"/>
<rect x="814" y="510" width="3" height="1" fill="#000"/>
<rect x="820" y="510" width="3" height="1" fill="#000"/>
<rect x="826" y="510" width="3" height="1" fill="#000"/>
<rect x="832" y="510" width="3" height="1" fill="#000"/>
<rect x="838" y="510" width="3" height="1" fill="#000"/>
<rect x="844" y="510" width="3" height="1" fill="#000"/>
<rect x="850" y="510" width="3" height="1" fill="#000"/>
<rect x="856" y="510" width="3" height="1" fill="#000"/>
<rect x="862" y="510" width="3" height="1" fill="#000"/>
<rect x="868" y="510" width="3" height="1" fill="#000"/>
<rect x="874" y="510" width="3" height="1" fill="#000"/>
<rect x="880" y="510" width="3" height="1" fill="#000"/>
<rect x="886" y="510" width="3" height="1" fill="#000"/>
<rect x="892" y="510" width="3" height="1" fill="#000"/>
<rect x="898" y="510" width="3" height="1" fill="#000"/>
<rect x="904" y="510" width="3" height="1" fill="#000"/>
<rect x="910" y="510" width="3" height="1" fill="#000"/>
<rect x="916" y="510" width="3" height="1" fill="#000"/>
<rect x="922" y="510" width="3" height="1" fill="#000"/>
<rect x="928" y="510" width="3" height="1" fill="#000"/>
<rect x="934" y="510" width="3" height="1" fill="#000"/>
<rect x="940" y="510" width="3" height="1" fill="#000"/>
<rect x="946" y="510" width="3" height="1" fill="#000"/>
<rect x="952" y="510" width="3" height="1" fill="#000"/>
<rect x="958" y="510" width="3" height="1" fill="#000"/>
<rect x="964" y="510" width="3" height="1" fill="#000"/>
<rect x="970" y="510" width="3" height="1" fill="#000"/>
<rect x="976" y="510" width="3" height="1" fill="#000"/>
<rect x="982" y="510" width="3" height="1" fill="#000"/>
<rect x="988" y="510" width="3" height="1" fill="#000"/>
<rect x="994" y="510" width="3" height="1" fill="#000"/>
<rect x="1000" y="510" width="3" height="1" fill="#000"/>
<rect x="1006" y="510" width="3" height="1" fill="#000"/>
<rect x="1012" y="510" width="3" height="1" fill="#000"/>
<rect x="1018" y="510" width="3" height="1" fill="#000"/>
<rect x="1024" y="510" width="3" height="1" fill="#000"/>
<rect x="1030" y="510" width="3" height="1" fill="#000"/>
<rect x="1036" y="510" width="3" height="1" fill="#000"/>
<rect x="1042" y="510" width="3" height="1" fill="#000"/>
<rect x="1048" y="510" width="3" height="1" fill="#000"/>
<rect x="1054" y="510" width="3" height="1" fill="#000"/>
<rect x="1060" y="510" width="3" height="1" fill="#000"/>
<rect x="1066" y="510" width="3" height="1" fill="#000"/>
<rect x="1072" y="510" width="3" height="1" fill="#000"/>
<rect x="1078" y="510" width="3" height="1" fill="#000"/>
<rect x="1084" y="510" width="3" height="1" fill="#000"/>
<rect x="1090" y="510" width="3" height="1" fill="#000"/>
<rect x="1096" y="510" width="3" height="1" fill="#000"/>
<rect x="1102" y="510" width="3" height="1" fill="#000"/>
<rect x="1108" y="510" width="3" height="1" fill="#000"/>
<rect x="1114" y="510" width="3" height="1" fill="#000"/>
<rect x="1120" y="510" width="3" height="1" fill="#000"/>
<rect x="1126" y="510" width="3" height="1" fill="#000"/>
<rect x="1132" y="510" width="3" height="1" fill="#000"/>
<rect x="1138" y="510" width="3" height="1" fill="#000"/>
<rect x="1144" y="510" width="3" height="1" fill="#000"/>
<rect x="1150" y="510" width="3" height="1" fill="#000"/>
<rect x="1156" y="510" width="3" height="1" fill="#000"/>
<rect x="1162" y="510" width="3" height="1" fill="#000"/>
<rect x="4" y="529" width="3" height="1" fill="#000"/>
<rect x="10" y="529" width="3" height="1" fill="#000"/>
<rect x="16" y="529" width="3" height="1" fill="#000"/>
<rect x="22" y="529" width="3" height="1" fill="#000"/>
<rect x="28" y="529" width="3" height="1" fill="#000"/>
<rect x="34" y="529" width="3" height="1" fill="#000"/>
<rect x="40" y="529" width="3" height="1" fill="#000"/>
<rect x="46" y="529" width="3" height="1" fill="#000"/>
<rect x="52" y="529" width="3" height="1" fill="#000"/>
<rect x="58" y="529" width="3" height="1" fill="#000"/>
<rect x="64" y="529" width="3" height="1" fill="#000"/>
<rect x="70" y="529" width="3" height="1" fill="#000"/>
<rect x="76" y="529" width="3" height="1" fill="#000"/>
<rect x="82" y="529" width="3" height="1" fill="#000"/>
<rect x="88" y="529" width="3" height="1" fill="#000"/>
<rect x="94" y="529" width="3" height="1" fill="#000"/>
<rect x="100" y="529" width="3" height="1" fill="#000"/>
<rect x="106" y="529" width="3" height="1" fill="#000"/>
<rect x="112" y="529" width="3" height="1" fill="#000"/>
<rect x="118" y="529" width="3" height="1" fill="#000"/>
<rect x="124" y="529" width="3" height="1" fill="#000"/>
<rect x="130" y="529" width="3" height="1" fill="#000"/>
<rect x="136" y="529" width="3" height="1" fill="#000"/>
<rect x="142" y="529" width="3" height="1" fill="#000"/>
<rect x="148" y="529" width="3" height="1" fill="#000"/>
<rect x="154" y="529" width="3" height="1" fill="#000"/>
<rect x="160" y="529" width="3" height="1" fill="#000"/>
<rect x="166" y="529" width="3" height="1" fill="#000"/>
<rect x="172" y="529" width="3" height="1" fill="#000"/>
<rect x="178" y="529" width="3" height="1" fill="#000"/>
<rect x="184" y="529" width="3" height="1" fill="#000"/>
<rect x="190" y="529" width="3" height="1" fill="#000"/>
<rect x="196" y="529" width="3" height="1" fill="#000"/>
<rect x="202" y="529" width="3" height="1" fill="#000"/>
<rect x="208" y="529" width="3" height="1" fill="#000"/>
<rect x="214" y="529" width="3" height="1" fill="#000"/>
<rect x="220" y="529" width="3" height="1" fill="#000"/>
<rect x="226" y="529" width="3" height="1" fill="#000"/>
<rect x="232" y="529" width="3" height="1" fill="#000"/>
<rect x="238" y="529" width="3" height="1" fill="#000"/>
<rect x="244" y="529" width="3" height="1" fill="#000"/>
<rect x="250" y="529" width="3" height="1" fill="#000"/>
<rect x="256" y="529" width="3" height="1" fill="#000"/>
<rect x="262" y="529" width="3" height="1" fill="#000"/>
<rect x="268" y="529" width="3" height="1" fill="#000"/>
<rect x="274" y="529" width="3" height="1" fill="#000"/>
<rect x="280" y="529" width="3" height="1" fill="#000"/>
<rect x="286" y="529" width="3" height="1" fill="#000"/>
<rect x="292" y="529" width="3" height="1" fill="#000"/>
<rect x="298" y="529" width="3" height="1" fill="#000"/>
<rect x="304" y="529" width="3" height="1" fill="#000"/>
<rect x="310" y="529" width="3" height="1" fill="#000"/>
<rect x="316" y="529" width="3" height="1" fill="#000"/>
<rect x="322" y="529" width="3" height="1" fill="#000"/>
<rect x="328" y="529" width="3" height="1" fill="#000"/>
<rect x="334" y="529" width="3" height="1" fill="#000"/>
<rect x="340" y="529" width="3" height="1" fill="#000"/>
<rect x="346" y="529" width="3" height="1" fill="#000"/>
<rect x="352" y="529" width="3" height="1" fill="#000"/>
<rect x="358" y="529" width="3" height="1" fill="#000"/>
<rect x="364" y="529" width="3" height="1" fill="#000"/>
<rect x="370" y="529" width="3" height="1" fill="#000"/>
<rect x="376" y="529" width="3" height="1" fill="#000"/>
<rect x="382" y="529" width="3" height="1" fill="#000"/>
<rect x="388" y="529" width="3" height="1" fill="#000"/>
<rect x="394" y="529" width="3" height="1" fill="#000"/>
<rect x="400" y="529" width="3" height="1" fill="#000"/>
<rect x="406" y="529" width="3" height="1" fill="#000"/>
<rect x="412" y="529" width="3" height="1" fill="#000"/>
<rect x="418" y="529" width="3" height="1" fill="#000"/>
<rect x="424" y="529" width="3" height="1" fill="#000"/>
<rect x="430" y="529" width="3" height="1" fill="#000"/>
<rect x="436" y="529" width="3" height="1" fill="#000"/>
<rect x="442" y="529" width="3" height="1" fill="#000"/>
<rect x="448" y="529" width="3" height="1" fill="#000"/>
<rect x="454" y="529" width="3" height="1" fill="#000"/>
<rect x="460" y="529" width="3" height="1" fill="#000"/>
<rect x="466" y="529" width="3" height="1" fill="#000"/>
<rect x="472" y="529" width="3" height="1" fill="#000"/>
<rect x="478" y="529" width="3" height="1" fill="#000"/>
<rect x="484" y="529" width="3" height="1" fill="#000"/>
<rect x="490" y="529" width="3" height="1" fill="#000"/>
<rect x="496" y="529" width="3" height="1" fill="#000"/>
<rect x="502" y="529" width="3" height="1" fill="#000"/>
<rect x="508" y="529" width="3" height="1" fill="#000"/>
<rect x="514" y="529" width="3" height="1" fill="#000"/>
<rect x="520" y="529" width="3" height="1" fill="#000"/>
<rect x="526" y="529" width="3" height="1" fill="#000"/>
<rect x="532" y="529" width="3" height="1" fill="#000"/>
<rect x="538" y="529" width="3" height="1" fill="#000"/>
<rect x="544" y="529" width="3" height="1" fill="#000"/>
<rect x="550" y="529" width="3" height="1" fill="#000"/>
<rect x="556" y="529" width="3" height="1" fill="#000"/>
<rect x="562" y="529" width="3" height="1" fill="#000"/>
<rect x="568" y="529" width="3" height="1" fill="#000"/>
<rect x="574" y="529" width="3" height="1" fill="#000"/>
<rect x="580" y="529" width="3" height="1" fill="#000"/>
<rect x="586" y="529" width="3" height="1" fill="#000"/>
<rect x="592" y="529" width="3" height="1" fill="#000"/>
<rect x="598" y="529" width="3" height="1" fill="#000"/>
<rect x="604" y="529" width="3" height="1" fill="#000"/>
<rect x="610" y="529" width="3" height="1" fill="#000"/>
<rect x="616" y="529" width="3" height="1" fill="#000"/>
<rect x="622" y="529" width="3" height="1" fill="#000"/>
<rect x="628" y="529" width="3" height="1" fill="#000"/>
<rect x="634" y="529" width="3" height="1" fill="#000"/>
<rect x="640" y="529" width="3" height="1" fill="#000"/>
<rect x="646" y="529" width="3" height="1" fill="#000"/>
<rect x="652" y="529" width="3" height="1" fill="#000"/>
<rect x="658" y="529" width="3" height="1" fill="#000"/>
<rect x="664" y="529" width="3" height="1" fill="#000"/>
<rect x="670" y="529" width="3" height="1" fill="#000"/>
<rect x="676" y="529" width="3" height="1" fill="#000"/>
<rect x="682" y="529" width="3" height="1" fill="#000"/>
<rect x="688" y="529" width="3" height="1" fill="#000"/>
<rect x="694" y="529" width="3" height="1" fill="#000"/>
<rect x="700" y="529" width="3" height="1" fill="#000"/>
<rect x="706" y="529" width="3" height="1" fill="#000"/>
<rect x="712" y="529" width="3" height="1" fill="#000"/>
<rect x="718" y="529" width="3" height="1" fill="#000"/>
<rect x="724" y="529" width="3" height="1" fill="#000"/>
<rect x="730" y="529" width="3" height="1" fill="#000"/>
<rect x="736" y="529" width="3" height="1" fill="#000"/>
<rect x="742" y="529" width="3" height="1" fill="#000"/>
<rect x="748" y="529" width="3" height="1" fill="#000"/>
<rect x="754" y="529" width="3" height="1" fill="#000"/>
<rect x="760" y="529" width="3" height="1" fill="#000"/>
<rect x="766" y="529" width="3" height="1" fill="#000"/>
<rect x="772" y="529" width="3" height="1" fill="#000"/>
<rect x="778" y="529" width="3" height="1" fill="#000"/>
<rect x="784" y="529" width="3" height="1" fill="#000"/>
<rect x="790" y="529" width="3" height="1" fill="#000"/>
<rect x="796" y="529" width="3" height="1" fill="#000"/>
<rect x="802" y="529" width="3" height="1" fill="#000"/>
<rect x="808" y="529" width="3" height="1" fill="#000"/>
<rect x="814" y="529" width="3" height="1" fill="#000"/>
<rect x="820" y="529" width="3" height="1" fill="#000"/>
<rect x="826" y="529" width="3" height="1" fill="#000"/>
<rect x="832" y="529" width="3" height="1" fill="#000"/>
<rect x="838" y="529" width="3" height="1" fill="#000"/>
<rect x="844" y="529" width="3" height="1" fill="#000"/>
<rect x="850" y="529" width="3" height="1" fill="#000"/>
<rect x="856" y="529" width="3" height="1" fill="#000"/>
<rect x="862" y="529" width="3" height="1" fill="#000"/>
<rect x="868" y="529" width="3" height="1" fill="#000"/>
<rect x="874" y="529" width="3" height="1" fill="#000"/>
<rect x="880" y="529" width="3" height="1" fill="#000"/>
<rect x="886" y="529" width="3" height="1" fill="#000"/>
<rect x="892" y="529" width="3" height="1" fill="#000"/>
<rect x="898" y="529" width="3" height="1" fill="#000"/>
<rect x="904" y="529" width="3" height="1" fill="#000"/>
<rect x="910" y="529" width="3" height="1" fill="#000"/>
<rect x="916" y="529" width="3" height="1" fill="#000"/>
<rect x="922" y="529" width="3" height="1" fill="#000"/>
<rect x="928" y="529" width="3" height="1" fill="#000"/>
<rect x="934" y="529" width="3" height="1" fill="#000"/>
<rect x="940" y="529" width="3" height="1" fill="#000"/>
<rect x="946" y="529" width="3" height="1" fill="#000"/>
<rect x="952" y="529" width="3" height="1" fill="#000"/>
<rect x="958" y="529" width="3" height="1" fill="#000"/>
<rect x="964" y="529" width="3" height="1" fill="#000"/>
<rect x="970" y="529" width="3" height="1" fill="#000"/>
<rect x="976" y="529" width="3" height="1" fill="#000"/>
<rect x="982" y="529" width="3" height="1" fill="#000"/>
<rect x="988" y="529" width="3" height="1" fill="#000"/>
<rect x="994" y="529" width="3" height="1" fill="#000"/>
<rect x="1000" y="529" width="3" height="1" fill="#000"/>
<rect x="1006" y="529" width="3" height="1" fill="#000"/>
<rect x="1012" y="529" width="3" height="1" fill="#000"/>
<rect x="1018" y="529" width="3" height="1" fill="#000"/>
<rect x="1024" y="529" width="3" height="1" fill="#000"/>
<rect x="1030" y="529" width="3" height="1" fill="#000"/>
<rect x="1036" y="529" width="3" height="1" fill="#000"/>
<rect x="1042" y="529" width="3" height="1" fill="#000"/>
<rect x="1048" y="529" width="3" height="1" fill="#000"/>
<rect x="1054" y="529" width="3" height="1" fill="#000"/>
<rect x="1060" y="529" width="3" height="1" fill="#000"/>
<rect x="1066" y="529" width="3" height="1" fill="#000"/>
<rect x="1072" y="529" width="3" height="1" fill="#000"/>
<rect x="1078" y="529" width="3" height="1" fill="#000"/>
<rect x="1084" y="529" width="3" height="1" fill="#000"/>
<rect x="1090" y="529" width="3" height="1" fill="#000"/>
<rect x="1096" y="529" width="3" height="1" fill="#000"/>
<rect x="1102" y="529" width="3" height="1" fill="#000"/>
<rect x="1108" y="529" width="3" height="1" fill="#000"/>
<rect x="1114" y="529" width="3" height="1" fill="#000"/>
<rect x="1120" y="529" width="3" height="1" fill="#000"/>
<rect x="1126" y="529" width="3" height="1" fill="#000"/>
<rect x="1132" y="529" width="3" height="1" fill="#000"/>
<rect x="1138" y="529" width="3" height="1" fill="#000"/>
<rect x="1144" y="529" width="3" height="1" fill="#000"/>
<rect x="1150" y="529" width="3" height="1" fill="#000"/>
<rect x="1156" y="529" width="3" height="1" fill="#000"/>
<rect x="1162" y="529" width="3" height="1" fill="#000"/>
<polyline points="2,522 13,522 27,514.8 36,513.7 43,514.6 51,514.6 59,512.6 67,511.7 75,510.9 83,510.6 91,510.9 99,512.6 107,513 115,513.9 131,513.9 139,513.7 147,511.7 155,510.9 158,511.3 163,516.6 171,517 179,518.2 187,519 195,520.6 203,519.9 211,519 219,521.3 235,521.9 243,523.9 251,521.3 259,519 267,523.3 275,526.6 283,527.2 291,528.6 299,529 307,529.9 315,529.9 323,531 331,531 339,531.9 347,528.6 355,520.9 363,524.2 371,525.6 379,525.6 387,527.9 395,528.6 403,528.6 411,529.9 419,527.2 427,525.9 435,525.2 443,522.9 451,524.6 459,521.7 467,521.7 475,519.9 483,519.9 491,519 507,519 515,517.3 523,516.2 547,516.2 555,513.7 563,516 571,516.2 579,517 587,517 595,518.6 603,522.6 611,523.3 619,523.9 627,527.2 635,527.9 643,521.9 651,521.7 659,523.9 675,523.9 683,523 691,524.6 699,524.9 707,523.7 715,523 723,524.3 731,524.9 747,524.9 755,526.8 763,526.8 771,524.9 779,526.8 787,526.8 795,523.3 803,522.9 811,522.9 819,526.5 835,526.8 843,525.2 851,523.3 859,522.9 867,521.8 875,518.1 883,517.7 891,516.6 899,517.7 907,517.7 915,515.8" fill="none" stroke="#1e90ff" stroke-width="2" shape-rendering="crispEdges"/>
<rect x="1166" y="22" width="38" height="526" fill="#fff"/>
<rect x="2" y="22" width="1164" height="1" fill="#000"/>
<rect x="2" y="447" width="1164" height="1" fill="#000"/>
<rect x="2" y="22" width="1" height="426" fill="#000"/>
<rect x="1165" y="22" width="1" height="426" fill="#000"/>
<rect x="2" y="449" width="1164" height="1" fill="#000"/>
<rect x="2" y="493" width="1164" height="1" fill="#000"/>
<rect x="2" y="449" width="1" height="45" fill="#000"/>
<rect x="1165" y="449" width="1" height="45" fill="#000"/>
<rect x="2" y="495" width="1164" height="1" fill="#000"/>
<rect x="2" y="543" width="1164" height="1" fill="#000"/>
<rect x="2" y="495" width="1" height="49" fill="#000"/>
<rect x="1165" y="495" width="1" height="49" fill="#000"/>
<rect x="1166" y="48" width="2" height="1" fill="#000"/>
<rect x="1166" y="81" width="2" height="1" fill="#000"/>
<rect x="1166" y="114" width="2" height="1" fill="#000"/>
<rect x="1166" y="181" width="2" height="1" fill="#000"/>
<rect x="1166" y="213" width="2" height="1" fill="#000"/>
<rect x="1166" y="246" width="2" height="1" fill="#000"/>
<rect x="1166" y="279" width="2" height="1" fill="#000"/>
<rect x="1166" y="312" width="2" height="1" fill="#000"/>
<rect x="1166" y="345" width="2" height="1" fill="#000"/>
<rect x="1166" y="378" width="2" height="1" fill="#000"/>
<rect x="1166" y="411" width="2" height="1" fill="#000"/>
<rect x="1166" y="444" width="2" height="1" fill="#000"/>
<rect x="1167" y="142" width="37" height="11" fill="#ff0000"/>
<rect x="1167" y="222" width="37" height="11" fill="#ff0000"/>
<rect x="1167" y="290" width="37" height="11" fill="#00ff00"/>
<rect x="1167" y="323" width="37" height="11" fill="#000000"/>
<rect x="1167" y="365" width="37" height="11" fill="#0000ff"/>
<rect x="1166" y="451" width="2" height="1" fill="#000"/>
<rect x="1166" y="467" width="2" height="1" fill="#000"/>
<rect x="1166" y="492" width="2" height="1" fill="#000"/>
<rect x="1166" y="497" width="2" height="1" fill="#000"/>
<rect x="1166" y="542" width="2" height="1" fill="#000"/>
<polygon points="6,29 13,29 9.5,33" fill="#000"/>
<rect x="3" y="544" width="1" height="3" fill="#000"/>
<rect x="67" y="544" width="1" height="3" fill="#000"/>
<rect x="131" y="544" width="1" height="3" fill="#000"/>
<rect x="195" y="544" width="1" height="3" fill="#000"/>
<rect x="259" y="544" width="1" height="3" fill="#000"/>
<rect x="323" y="544" width="1" height="3" fill="#000"/>
<rect x="387" y="544" width="1" height="3" fill="#000"/>
<rect x="451" y="544" width="1" height="3" fill="#000"/>
<rect x="515" y="544" width="1" height="3" fill="#000"/>
<rect x="579" y="544" width="1" height="3" fill="#000"/>
<rect x="643" y="544" width="1" height="3" fill="#000"/>
<rect x="707" y="544" width="1" height="3" fill="#000"/>
<rect x="771" y="544" width="1" height="3" fill="#000"/>
<rect x="835" y="544" width="1" height="3" fill="#000"/>
<rect x="899" y="544" width="1" height="3" fill="#000"/>
<rect x="0" y="559" width="1204" height="5" fill="#fff"/>
<rect x="0" y="564" width="1204" height="1" fill="#e3e3e3"/>
<rect x="0" y="565" width="1204" height="1" fill="#fff"/>
<rect x="0" y="566" width="1204" height="1" fill="#000"/>
<rect x="0" y="567" width="1204" height="21" fill="#f0f0f0"/>
<rect x="0" y="586" width="1204" height="2" fill="#f8f8f8"/>
<rect x="112" y="566" width="108" height="19" fill="#000"/>
<rect x="113" y="566" width="106" height="18" fill="#fff"/>
<rect x="328" y="569" width="1" height="14" fill="#6d6d6d"/>
<rect x="436" y="569" width="1" height="14" fill="#6d6d6d"/>
<rect x="548" y="569" width="1" height="14" fill="#6d6d6d"/>
<rect x="656" y="569" width="1" height="14" fill="#6d6d6d"/>
<rect x="748" y="569" width="1" height="14" fill="#6d6d6d"/>
<rect x="828" y="569" width="1" height="14" fill="#6d6d6d"/>
<rect x="904" y="569" width="1" height="14" fill="#6d6d6d"/>
<rect x="996" y="569" width="1" height="14" fill="#6d6d6d"/>
<rect x="1076" y="569" width="1" height="14" fill="#6d6d6d"/>
<rect x="1156" y="569" width="1" height="14" fill="#6d6d6d"/>
<polygon points="1180,575 1184,571 1184,579" fill="#000"/>
<polygon points="1200,571 1204,575 1200,579" fill="#a0a0a0"/>
</g>
<g>
<text x="1171" y="52" font-size="10" fill="#000" font-weight="normal" text-anchor="start" textLength="33" lengthAdjust="spacingAndGlyphs" stroke="#000" stroke-width="0.2">0.76480</text>
<text x="1171" y="85" font-size="10" fill="#000" font-weight="normal" text-anchor="start" textLength="33" lengthAdjust="spacingAndGlyphs" stroke="#000" stroke-width="0.2">0.75660</text>
<text x="1171" y="118" font-size="10" fill="#000" font-weight="normal" text-anchor="start" textLength="33" lengthAdjust="spacingAndGlyphs" stroke="#000" stroke-width="0.2">0.74840</text>
<text x="1171" y="185" font-size="10" fill="#000" font-weight="normal" text-anchor="start" textLength="33" lengthAdjust="spacingAndGlyphs" stroke="#000" stroke-width="0.2">0.73200</text>
<text x="1171" y="217" font-size="10" fill="#000" font-weight="normal" text-anchor="start" textLength="33" lengthAdjust="spacingAndGlyphs" stroke="#000" stroke-width="0.2">0.72380</text>
<text x="1171" y="250" font-size="10" fill="#000" font-weight="normal" text-anchor="start" textLength="33" lengthAdjust="spacingAndGlyphs" stroke="#000" stroke-width="0.2">0.71560</text>
<text x="1171" y="283" font-size="10" fill="#000" font-weight="normal" text-anchor="start" textLength="33" lengthAdjust="spacingAndGlyphs" stroke="#000" stroke-width="0.2">0.70740</text>
<text x="1171" y="316" font-size="10" fill="#000" font-weight="normal" text-anchor="start" textLength="33" lengthAdjust="spacingAndGlyphs" stroke="#000" stroke-width="0.2">0.69900</text>
<text x="1171" y="349" font-size="10" fill="#000" font-weight="normal" text-anchor="start" textLength="33" lengthAdjust="spacingAndGlyphs" stroke="#000" stroke-width="0.2">0.69080</text>
<text x="1171" y="382" font-size="10" fill="#000" font-weight="normal" text-anchor="start" textLength="33" lengthAdjust="spacingAndGlyphs" stroke="#000" stroke-width="0.2">0.68260</text>
<text x="1171" y="415" font-size="10" fill="#000" font-weight="normal" text-anchor="start" textLength="33" lengthAdjust="spacingAndGlyphs" stroke="#000" stroke-width="0.2">0.67440</text>
<text x="1171" y="448" font-size="10" fill="#000" font-weight="normal" text-anchor="start" textLength="33" lengthAdjust="spacingAndGlyphs" stroke="#000" stroke-width="0.2">0.66620</text>
<text x="1171" y="151" font-size="10" fill="#fff" font-weight="normal" text-anchor="start" textLength="33" lengthAdjust="spacingAndGlyphs" stroke="#fff" stroke-width="0.15">0.74001</text>
<text x="1171" y="231" font-size="10" fill="#fff" font-weight="normal" text-anchor="start" textLength="33" lengthAdjust="spacingAndGlyphs" stroke="#fff" stroke-width="0.15">0.72015</text>
<text x="1171" y="299" font-size="10" fill="#fff" font-weight="normal" text-anchor="start" textLength="33" lengthAdjust="spacingAndGlyphs" stroke="#fff" stroke-width="0.15">0.70302</text>
<text x="1171" y="332" font-size="10" fill="#fff" font-weight="normal" text-anchor="start" textLength="33" lengthAdjust="spacingAndGlyphs" stroke="#fff" stroke-width="0.15">0.69501</text>
<text x="1171" y="374" font-size="10" fill="#fff" font-weight="normal" text-anchor="start" textLength="33" lengthAdjust="spacingAndGlyphs" stroke="#fff" stroke-width="0.15">0.68453</text>
<text x="1169" y="460" font-size="10" fill="#000" font-weight="normal" text-anchor="start" textLength="42" lengthAdjust="spacingAndGlyphs" stroke="#000" stroke-width="0.2">0.008197</text>
<text x="1169" y="471" font-size="10" fill="#000" font-weight="normal" text-anchor="start" textLength="18" lengthAdjust="spacingAndGlyphs" stroke="#000" stroke-width="0.2">0.00</text>
<text x="1169" y="490" font-size="10" fill="#000" font-weight="normal" text-anchor="start" textLength="42" lengthAdjust="spacingAndGlyphs" stroke="#000" stroke-width="0.2">-0.01212</text>
<text x="1168.5" y="506" font-size="10" fill="#000" font-weight="normal" text-anchor="start" textLength="15" lengthAdjust="spacingAndGlyphs" stroke="#000" stroke-width="0.2">100</text>
<text x="1168.5" y="514" font-size="10" fill="#000" font-weight="normal" text-anchor="start" textLength="10" lengthAdjust="spacingAndGlyphs" stroke="#000" stroke-width="0.2">70</text>
<text x="1168.5" y="533" font-size="10" fill="#000" font-weight="normal" text-anchor="start" textLength="10" lengthAdjust="spacingAndGlyphs" stroke="#000" stroke-width="0.2">30</text>
<text x="1168.5" y="540" font-size="10" fill="#000" font-weight="normal" text-anchor="start" textLength="5" lengthAdjust="spacingAndGlyphs" stroke="#000" stroke-width="0.2">0</text>
<text x="19" y="34" font-size="10" fill="#000" font-weight="normal" text-anchor="start" textLength="67" lengthAdjust="spacingAndGlyphs" stroke="#000" stroke-width="0.2">AUDUSD-,Daily</text>
<text x="93" y="34" font-size="10" fill="#000" font-weight="normal" text-anchor="start" textLength="140" lengthAdjust="spacingAndGlyphs" stroke="#000" stroke-width="0.2">0.69017 0.69642 0.68783 0.69501</text>
<text x="8" y="462" font-size="10" fill="#000" font-weight="normal" text-anchor="start" textLength="153" lengthAdjust="spacingAndGlyphs" stroke="#000" stroke-width="0.2">MACD(12,26,9) -0.000236 -0.003292</text>
<text x="7" y="507" font-size="10" fill="#000" font-weight="normal" text-anchor="start" textLength="68" lengthAdjust="spacingAndGlyphs" stroke="#000" stroke-width="0.2">RSI(14) 58.7054</text>
<text x="2" y="556" font-size="10" fill="#000" font-weight="bold" text-anchor="start" textLength="52.2" lengthAdjust="spacingAndGlyphs">14 Mar 2022</text>
<text x="66" y="556" font-size="10" fill="#000" font-weight="bold" text-anchor="start" textLength="52.2" lengthAdjust="spacingAndGlyphs">23 Mar 2022</text>
<text x="130" y="556" font-size="10" fill="#000" font-weight="bold" text-anchor="start" textLength="46.2" lengthAdjust="spacingAndGlyphs">1 Apr 2022</text>
<text x="194" y="556" font-size="10" fill="#000" font-weight="bold" text-anchor="start" textLength="50.8" lengthAdjust="spacingAndGlyphs">11 Apr 2022</text>
<text x="258" y="556" font-size="10" fill="#000" font-weight="bold" text-anchor="start" textLength="51.3" lengthAdjust="spacingAndGlyphs">20 Apr 2022</text>
<text x="322" y="556" font-size="10" fill="#000" font-weight="bold" text-anchor="start" textLength="51.3" lengthAdjust="spacingAndGlyphs">29 Apr 2022</text>
<text x="386" y="556" font-size="10" fill="#000" font-weight="bold" text-anchor="start" textLength="48.6" lengthAdjust="spacingAndGlyphs">9 May 2022</text>
<text x="450" y="556" font-size="10" fill="#000" font-weight="bold" text-anchor="start" textLength="53.7" lengthAdjust="spacingAndGlyphs">18 May 2022</text>
<text x="514" y="556" font-size="10" fill="#000" font-weight="bold" text-anchor="start" textLength="53.7" lengthAdjust="spacingAndGlyphs">27 May 2022</text>
<text x="578" y="556" font-size="10" fill="#000" font-weight="bold" text-anchor="start" textLength="47.1" lengthAdjust="spacingAndGlyphs">6 Jun 2022</text>
<text x="642" y="556" font-size="10" fill="#000" font-weight="bold" text-anchor="start" textLength="52.2" lengthAdjust="spacingAndGlyphs">15 Jun 2022</text>
<text x="706" y="556" font-size="10" fill="#000" font-weight="bold" text-anchor="start" textLength="52.2" lengthAdjust="spacingAndGlyphs">24 Jun 2022</text>
<text x="770" y="556" font-size="10" fill="#000" font-weight="bold" text-anchor="start" textLength="44.0" lengthAdjust="spacingAndGlyphs">4 Jul 2022</text>
<text x="834" y="556" font-size="10" fill="#000" font-weight="bold" text-anchor="start" textLength="49.1" lengthAdjust="spacingAndGlyphs">13 Jul 2022</text>
<text x="898" y="556" font-size="10" fill="#000" font-weight="bold" text-anchor="start" textLength="49.1" lengthAdjust="spacingAndGlyphs">22 Jul 2022</text>
<text x="-1" y="10" font-size="10" fill="#222" stroke="#222" stroke-width="0.01" textLength="5" lengthAdjust="spacingAndGlyphs">5</text>
<text x="14.5" y="10" font-size="10" fill="#222" stroke="#222" stroke-width="0.01" textLength="18" lengthAdjust="spacingAndGlyphs">M30</text>
<text x="45.5" y="10" font-size="10" fill="#222" stroke="#222" stroke-width="0.01" textLength="11.8" lengthAdjust="spacingAndGlyphs">H1</text>
<text x="72.4" y="10" font-size="10" fill="#222" stroke="#222" stroke-width="0.01" textLength="13" lengthAdjust="spacingAndGlyphs">H4</text>
<text x="101.4" y="10" font-size="10" fill="#222" stroke="#222" stroke-width="0.01" textLength="12" lengthAdjust="spacingAndGlyphs">D1</text>
<text x="128.5" y="10" font-size="10" fill="#222" stroke="#222" stroke-width="0.01" textLength="14.9" lengthAdjust="spacingAndGlyphs">W1</text>
<text x="155.3" y="10" font-size="10" fill="#222" stroke="#222" stroke-width="0.01" textLength="15.4" lengthAdjust="spacingAndGlyphs">MN</text>
<text x="15" y="581" font-size="12" fill="#6d6d6d" font-weight="normal" text-anchor="start" textLength="85" lengthAdjust="spacingAndGlyphs">EURUSD-,Daily</text>
<text x="121.3" y="581" font-size="12" fill="#000" font-weight="normal" text-anchor="start" textLength="88" lengthAdjust="spacingAndGlyphs">AUDUSD-,Daily</text>
<text x="231.6" y="581" font-size="12" fill="#6d6d6d" font-weight="normal" text-anchor="start" textLength="85" lengthAdjust="spacingAndGlyphs">USDCHF-,Daily</text>
<text x="338.7" y="581" font-size="12" fill="#6d6d6d" font-weight="normal" text-anchor="start" textLength="86.5" lengthAdjust="spacingAndGlyphs">USDCAD-,Daily</text>
<text x="447.6" y="581" font-size="12" fill="#6d6d6d" font-weight="normal" text-anchor="start" textLength="88.3" lengthAdjust="spacingAndGlyphs">USDCNH-,Daily</text>
<text x="558.6" y="581" font-size="12" fill="#6d6d6d" font-weight="normal" text-anchor="start" textLength="86.5" lengthAdjust="spacingAndGlyphs">XAUUSD-,Daily</text>
<text x="666.8" y="581" font-size="12" fill="#6d6d6d" font-weight="normal" text-anchor="start" textLength="69.6" lengthAdjust="spacingAndGlyphs">UKOil-,Daily</text>
<text x="759.5" y="581" font-size="12" fill="#6d6d6d" font-weight="normal" text-anchor="start" textLength="56.5" lengthAdjust="spacingAndGlyphs">USOil-,H4</text>
<text x="837.5" y="581" font-size="12" fill="#6d6d6d" font-weight="normal" text-anchor="start" textLength="55.9" lengthAdjust="spacingAndGlyphs">HK50-,H1</text>
<text x="913.8" y="581" font-size="12" fill="#6d6d6d" font-weight="normal" text-anchor="start" textLength="71.6" lengthAdjust="spacingAndGlyphs">EURCHF-,H1</text>
<text x="1008" y="581" font-size="12" fill="#6d6d6d" font-weight="normal" text-anchor="start" textLength="56.2" lengthAdjust="spacingAndGlyphs">USOil-,H4</text>
<text x="1086.7" y="581" font-size="12" fill="#6d6d6d" font-weight="normal" text-anchor="start" textLength="57.4" lengthAdjust="spacingAndGlyphs">UKOil-,H4</text>
</g>
</svg>
</body></html>
